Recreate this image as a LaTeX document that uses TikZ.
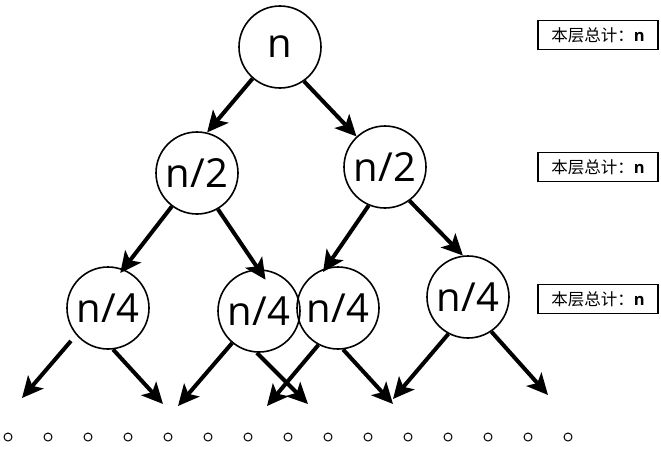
\documentclass[tikz,border=0pt]{standalone}
\usepackage{fontspec}
\setmainfont{Open Sans}
\newfontfamily\cjk{Noto Sans CJK SC}
\usetikzlibrary{arrows.meta}

\begin{document}
\begin{tikzpicture}[x=1pt,y=-1pt,
	tnode/.style={circle, draw, line width=1.6pt, minimum size=82pt, inner sep=0pt, font=\fontsize{40}{40}\selectfont},
	arr/.style={line width=4pt, -{Stealth[length=21pt,width=20pt,inset=5pt]}},
	sumbox/.style={draw, line width=1.6pt, minimum width=120pt, minimum height=29pt, inner sep=0pt, font=\fontsize{16.5}{16.5}\selectfont},
	leaf/.style={circle, draw, line width=1pt, minimum size=8pt, inner sep=0pt}]
	\useasboundingbox (0,0) rectangle (661,451);
	%Tree
	\node[tnode] (n) at (280,47) {n};
	\node[tnode] (a) at (197,173) {n/2};
	\node[tnode] (b) at (385,167) {n/2};
	\node[tnode] (c1) at (108,308) {n/4};
	\node[tnode] (c2) at (259,311) {n/4};
	\node[tnode] (c3) at (338,308) {n/4};
	\node[tnode] (c4) at (468,297) {n/4};
	%Sums
	\node[sumbox] (s1) at (598,35) {{\cjk 本层总计：}\textbf{n}};
	\node[sumbox] (s2) at (598,167) {{\cjk 本层总计：}\textbf{n}};
	\node[sumbox] (s3) at (598,299) {{\cjk 本层总计：}\textbf{n}};
	%Arrows
	\draw[arr] (n.229) -- (a.76);
	\draw[arr] (n.305) -- (b.133);
	\draw[arr] (a.233) -- ([yshift=-5pt]c1.73);
	\draw[arr] (a.300) -- ([yshift=-10pt]c2.81);
	\draw[arr] (b.247) -- ([yshift=-3pt]c3.111);
	\draw[arr] (b.306) -- (c4.97);
	\coordinate (e1) at (22,398);
	\coordinate (e2) at (163,404);
	\coordinate (e3) at (178,406);
	\coordinate (e4) at (308,404);
	\coordinate (e5) at (267,406);
	\coordinate (e6) at (393,404);
	\coordinate (e7) at (393,399);
	\coordinate (e8) at (548,395);
	\draw[arr] ([shift={(-6,5)}]c1.222) -- (e1);
	\draw[arr] (c1.277) -- (e2);
	\draw[arr] (c2.230) -- (e3);
	\draw[arr] (c2.267) -- (e4);
	\draw[arr] (c3.242) -- (e5);
	\draw[arr] (c3.277) -- (e6);
	\draw[arr] (c4.242) -- (e7);
	\draw[arr] (c4.304) -- (e8);
	%Leaves
	\foreach \i in {0,...,14}
		\node[leaf] (o\i) at (8+40*\i,437) {};
\end{tikzpicture}
\end{document}
